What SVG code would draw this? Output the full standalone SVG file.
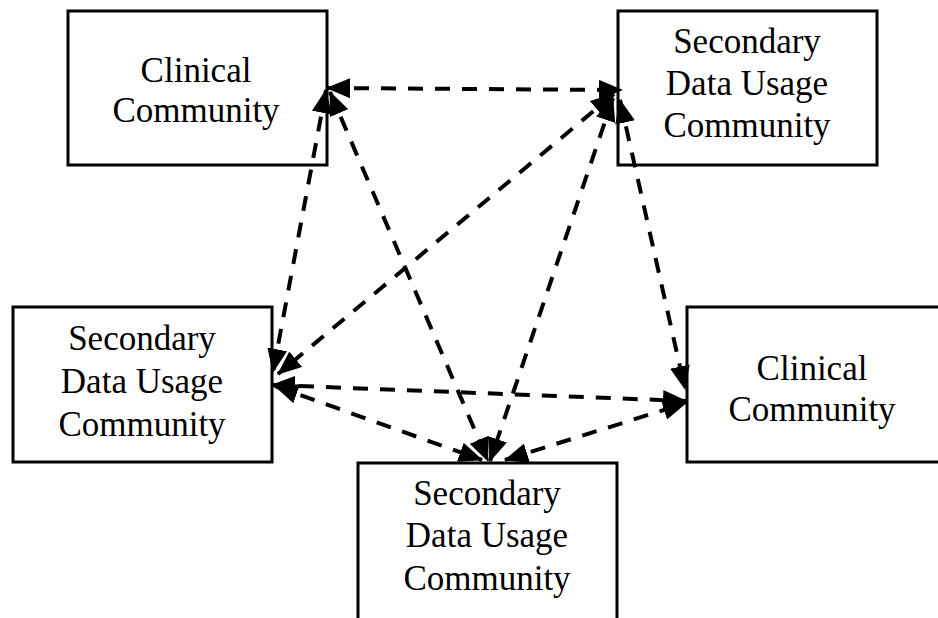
<svg xmlns="http://www.w3.org/2000/svg" width="938" height="618" viewBox="0 0 938 618">
  <style>
    .box { fill: #ffffff; stroke: #000000; stroke-width: 3; }
    .label { font-family: "Liberation Serif", "Times New Roman", serif; font-size: 35px; fill: #000000; text-anchor: middle; }
    .link { fill: none; stroke: #000000; stroke-width: 4; stroke-dasharray: 15 12; marker-start: url(#head); marker-end: url(#head); }
  </style>
  <defs>
    <marker id="head" viewBox="0 0 24 20" refX="23" refY="10" markerWidth="24" markerHeight="20" markerUnits="userSpaceOnUse" orient="auto-start-reverse">
      <path d="M0,0 L24,10 L0,20 z" fill="#000000"/>
    </marker>
  </defs>
  <rect width="938" height="618" fill="#ffffff"/>

  <g id="clinical-top">
    <rect class="box" x="68" y="11" width="259" height="154"/>
    <text class="label" x="196" y="82">Clinical</text>
    <text class="label" x="196" y="122">Community</text>
  </g>

  <g id="secondary-top">
    <rect class="box" x="618" y="11" width="259" height="154"/>
    <text class="label" x="747" y="53">Secondary</text>
    <text class="label" x="747" y="95">Data Usage</text>
    <text class="label" x="747" y="137">Community</text>
  </g>

  <g id="secondary-left">
    <rect class="box" x="13" y="307" width="259" height="155"/>
    <text class="label" x="142" y="350">Secondary</text>
    <text class="label" x="142" y="393">Data Usage</text>
    <text class="label" x="142" y="436">Community</text>
  </g>

  <g id="clinical-right">
    <rect class="box" x="687" y="307" width="262" height="155"/>
    <text class="label" x="812" y="380">Clinical</text>
    <text class="label" x="812" y="421">Community</text>
  </g>

  <g id="secondary-bottom">
    <rect class="box" x="358" y="463" width="259" height="165"/>
    <text class="label" x="487" y="505">Secondary</text>
    <text class="label" x="487" y="547">Data Usage</text>
    <text class="label" x="487" y="590">Community</text>
  </g>

  <g id="connectors">
    <line class="link" x1="327" y1="88" x2="622" y2="90"/>
    <line class="link" x1="326" y1="90" x2="273" y2="372"/>
    <line class="link" x1="330" y1="92" x2="488" y2="461"/>
    <line class="link" x1="614" y1="94" x2="278" y2="374"/>
    <line class="link" x1="613" y1="98" x2="490" y2="461"/>
    <line class="link" x1="620" y1="100" x2="685" y2="389"/>
    <line class="link" x1="272" y1="385" x2="686" y2="401"/>
    <line class="link" x1="275" y1="386" x2="482" y2="460"/>
    <line class="link" x1="505" y1="460" x2="686" y2="403"/>
  </g>
</svg>
